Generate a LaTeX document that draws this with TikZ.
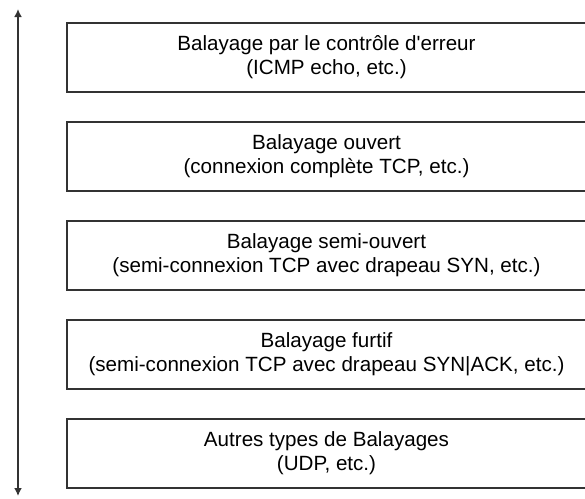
\documentclass[tikz,border=0pt]{standalone}
\usepackage{fontspec}
\setmainfont{Liberation Sans}
\usetikzlibrary{positioning,arrows.meta}
\begin{document}
\begin{tikzpicture}[
        x=0.5pt, y=-0.5pt,
        scan/.style={rectangle,draw=black!80,line width=0.8pt,anchor=north west,
            minimum width=259.5pt,minimum height=34.5pt,align=center,inner sep=0pt,outer sep=0pt,
            font=\fontsize{10.3}{12}\selectfont},
        node distance=15pt
        ]
        \useasboundingbox (0,0) rectangle (585,499);
        \node (ping) [scan] at (67,23) {Balayage par le contrôle d\textquotesingle erreur\\(ICMP echo, etc.)};
        \node (open) [scan,below=of ping] {Balayage ouvert\\(connexion complète TCP, etc.)};
        \node (half) [scan,below=of open] {Balayage semi-ouvert\\(semi-connexion TCP avec drapeau SYN, etc.)};
        \node (stealth) [scan,below=of half] {Balayage furtif\\(semi-connexion TCP avec drapeau SYN|ACK, etc.)};
        \node (other) [scan,below=of stealth] {Autres types de Balayages\\(UDP, etc.)};
        % double arrow on the left
        \coordinate (top) at (18,9);
        \coordinate (bottom) at (18,496);
        \draw[{Latex[length=4pt,width=4pt]}-{Latex[length=4pt,width=4pt]},draw=black!80,line width=0.8pt] (top) -- (bottom);
\end{tikzpicture}
\end{document}
